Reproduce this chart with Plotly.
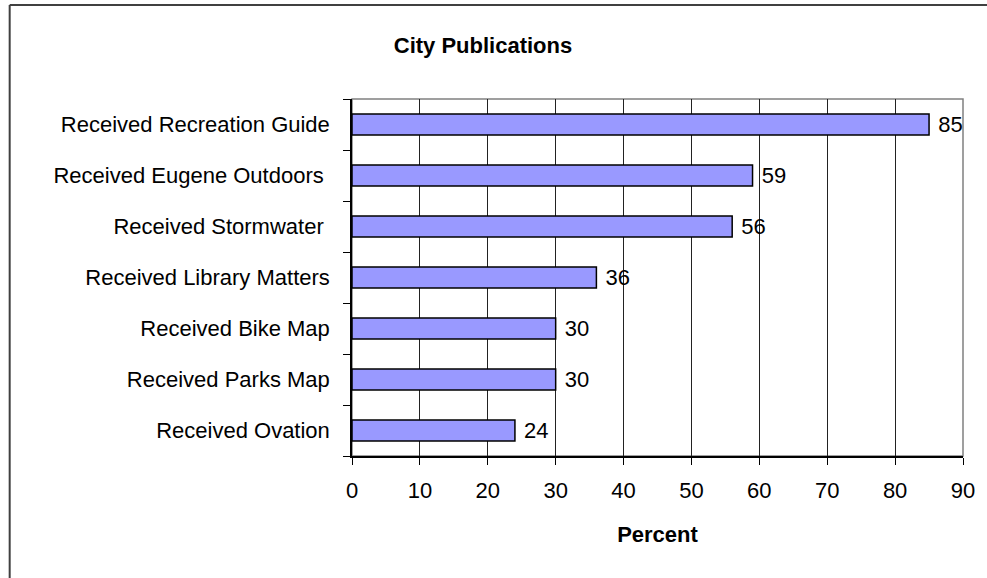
import plotly.graph_objects as go

# publications, listed bottom to top as drawn
publications = [
    "Received Ovation",
    "Received Parks Map",
    "Received Bike Map",
    "Received Library Matters",
    "Received Stormwater ",
    "Received Eugene Outdoors ",
    "Received Recreation Guide",
]
percent = [24, 30, 30, 36, 56, 59, 85]
x_ticks = [0, 10, 20, 30, 40, 50, 60, 70, 80, 90]

W, H = 987, 578
L, R, T, B = 352, 21, 99, 122
FONT = "Liberation Sans, Arial, sans-serif"

fig = go.Figure(
    go.Bar(
        y=publications,
        x=percent,
        orientation="h",
        marker=dict(color="#9999FF", line=dict(color="#000000", width=1.5)),
        text=percent,
        texttemplate=" %{x}",
        textposition="outside",
        constraintext="none",
        textfont=dict(family=FONT, size=22, color="#000000"),
        cliponaxis=False,
        hoverinfo="skip",
    )
)

# plot area frame (gray top/right) and outer chart border
pw = W - L - R
ph = H - T - B
fig.add_shape(type="rect", xref="paper", yref="paper", x0=0, x1=1, y0=0, y1=1,
              line=dict(color="#808080", width=1.5), layer="below")
fig.add_shape(type="line", xref="paper", yref="paper",
              x0=(8 - L) / pw, x1=(W + 5 - L) / pw,
              y0=(H - B - 5) / ph, y1=(H - B - 5) / ph,
              line=dict(color="#404040", width=2))
fig.add_shape(type="line", xref="paper", yref="paper",
              x0=(8 - L) / pw, x1=(8 - L) / pw,
              y0=(H - B - 5) / ph, y1=-(B + 5) / ph,
              line=dict(color="#404040", width=2))

fig.update_layout(
    width=W,
    height=H,
    margin=dict(l=L, r=R, t=T, b=B),
    paper_bgcolor="white",
    plot_bgcolor="white",
    bargap=0.59,
    showlegend=False,
    font=dict(family=FONT, size=22, color="#000000"),
    title=dict(
        text="<b>City Publications</b>",
        font=dict(family=FONT, size=22, color="#000000"),
        x=483 / W,
        xanchor="center",
        y=1 - 45 / H,
        yanchor="middle",
        xref="container",
        yref="container",
    ),
    xaxis=dict(
        range=[0, 90],
        tickvals=x_ticks,
        ticks="outside",
        ticklen=7,
        tickcolor="#000000",
        showgrid=True,
        gridcolor="#222222",
        gridwidth=1,
        showline=True,
        linecolor="#000000",
        linewidth=1.5,
        zeroline=False,
        tickfont=dict(family=FONT, size=22),
        ticklabelstandoff=7,
        title=dict(text="<b>Percent</b>", font=dict(family=FONT, size=22), standoff=24),
    ),
    yaxis=dict(
        type="category",
        categoryorder="array",
        categoryarray=publications,
        tickson="boundaries",
        ticks="outside",
        ticklen=7,
        tickcolor="#000000",
        showgrid=False,
        showline=True,
        linecolor="#000000",
        linewidth=1.5,
        tickfont=dict(family=FONT, size=22),
        ticklabelstandoff=16,
    ),
)

fig.write_html(
    "out.html",
    config={"displayModeBar": False},
    post_script="document.body.style.margin='0';document.body.style.overflow='hidden';",
)
